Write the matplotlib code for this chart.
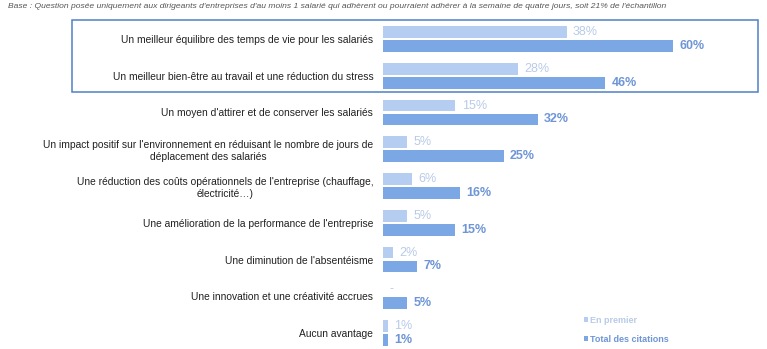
import numpy as np
from matplotlib import pyplot as plt
from matplotlib.patches import Rectangle

plt.rcParams['font.family'] = ['Liberation Sans', 'DejaVu Sans']

categories = [
    "Un meilleur équilibre des temps de vie pour les salariés",
    "Un meilleur bien-être au travail et une réduction du stress",
    "Un moyen d'attirer et de conserver les salariés",
    "Un impact positif sur l'environnement en réduisant le nombre de jours de\ndéplacement des salariés",
    "Une réduction des coûts opérationnels de l'entreprise (chauffage,\nélectricité…)",
    "Une amélioration de la performance de l'entreprise",
    "Une diminution de l'absentéisme",
    "Une innovation et une créativité accrues",
    "Aucun avantage",
]
en_premier = [38, 28, 15, 5, 6, 5, 2, 0, 1]
total_citations = [60, 46, 32, 25, 16, 15, 7, 5, 1]

light = '#b4cdf0'
dark = '#7ba7e5'
light_txt = '#b9cbe8'
dark_txt = '#6e95d6'

W, H = 767, 349
fig = plt.figure(figsize=(W / 100, H / 100), dpi=100)

# axes: bars start at x=383px, 1% ~ 4.83px; rows every 36.75px from y=39px
x0, pxper = 383, 4.83
row0, rowstep = 39, 36.75
ax = fig.add_axes([x0 / W, 0, 1 - x0 / W, 1])
ax.set_xlim(0, (W - x0) / pxper)
ax.set_ylim((H - row0) / rowstep, -row0 / rowstep)

y = np.arange(len(categories))
off, h = 0.19, 0.32
ax.barh(y - off, en_premier, height=h, color=light, label='En premier')
ax.barh(y + off, total_citations, height=h, color=dark, label='Total des citations')

for i in range(len(categories)):
    lab = '-' if en_premier[i] == 0 else f'{en_premier[i]}%'
    ax.text(en_premier[i] + 1.3, y[i] - off, lab, va='center', ha='left',
            fontsize=9, color=light_txt)
    ax.text(total_citations[i] + 1.3, y[i] + off, f'{total_citations[i]}%', va='center',
            ha='left', fontsize=9, color=dark_txt, fontweight='bold')

ax.set_yticks(y)
ax.set_yticklabels(categories, fontsize=7.4, color='#222222')
for t in ax.get_yticklabels():
    t.set_multialignment('center')
ax.tick_params(axis='y', length=0, pad=7)
ax.tick_params(axis='x', bottom=False, labelbottom=False)
for s in ax.spines.values():
    s.set_visible(False)

leg = ax.legend(loc='upper left', bbox_to_anchor=((584 - x0) / (W - x0), 1 - 316 / H),
                frameon=False, fontsize=6.5, handlelength=0.4, handleheight=0.4,
                handletextpad=0.3, labelspacing=1.1, borderaxespad=0, borderpad=0,
                labelcolor=[light_txt, dark_txt])
leg.get_texts()[1].set_fontweight('bold')
leg.get_texts()[0].set_fontweight('bold')

# highlight frame round the first two rows
fig.patches.append(Rectangle((72 / W, 1 - 92 / H), (758 - 72) / W, 72 / H,
                             transform=fig.transFigure, fill=False,
                             edgecolor='#4f7fc8', linewidth=1.1))

fig.text(8 / W, 1 - 7 / H,
         "Base : Question posée uniquement aux dirigeants d'entreprises d'au moins 1 salarié qui adhèrent ou pourraient adhérer à la semaine de quatre jours, soit 21% de l'échantillon",
         fontsize=6.1, style='italic', color='#555555', va='center', ha='left')

fig.savefig('out.png', dpi=100)
